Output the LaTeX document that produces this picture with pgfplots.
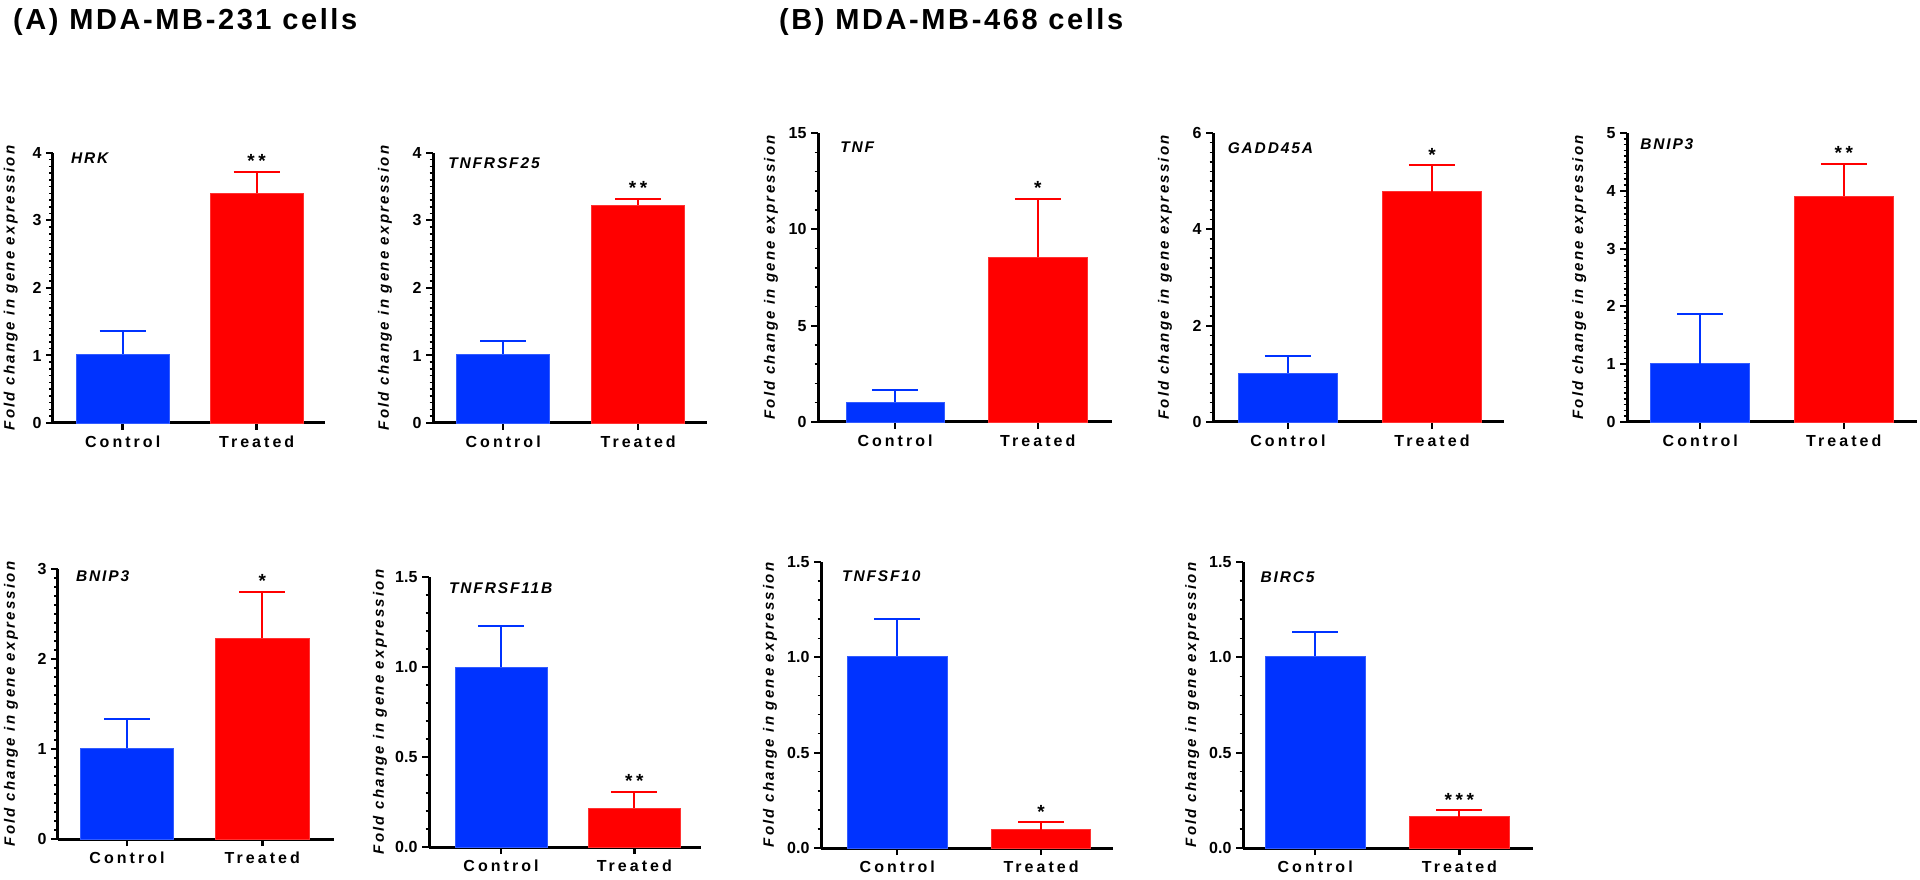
\documentclass[border=0pt]{standalone}
\usepackage{fontspec}
\usepackage{pgfplots}
\pgfplotsset{compat=1.18}
\setmainfont{Liberation Sans}
\newfontfamily\titlefont[LetterSpace=9]{Liberation Sans Bold}
\newfontfamily\labfont[LetterSpace=19]{Liberation Sans Bold}
\newfontfamily\ylabfont[LetterSpace=15]{Liberation Sans Bold Italic}
\newfontfamily\genefont[LetterSpace=12]{Liberation Sans Bold Italic}
\newfontfamily\numfont{Liberation Sans Bold}
\definecolor{cblue}{RGB}{0,51,255}
\definecolor{cred}{RGB}{255,0,0}
\pgfplotsset{
  panel/.style={
    scale only axis,
    axis x line*=bottom, axis y line*=left,
    axis line style={line width=3pt, black},
    ybar, bar width=0.69, bar shift=0pt,
    ymin=0,
    xtick={0,1}, xticklabels={Control,Treated},
    tick align=outside,
    major tick length=7pt, minor tick length=3.5pt,
    every tick/.style={black, line width=2pt},
    minor tick style={line width=1.5pt},
    xtick style={line width=2.5pt},
    xticklabel style={font=\labfont\fontsize{16}{18}\selectfont, yshift=-2pt},
    yticklabel style={font=\numfont\fontsize{16}{18}\selectfont, xshift=-1pt},
    /pgf/number format/assume math mode=true,
    ylabel={Fold change in gene expression},
    ylabel style={font=\ylabfont\fontsize{15}{17}\selectfont, rotate=0, anchor=center},
    clip=false,
    enlarge y limits=false,
  },
  ctrl/.style={fill=cblue, draw=cblue!80!white, line width=0.6pt,
    error bars/.cd, y dir=plus, y explicit,
    error bar style={line width=2pt, cblue},
    error mark options={line width=2pt, cblue, mark size=23pt, rotate=90}},
  trt/.style={fill=cred, draw=cred!80!white, line width=0.6pt,
    error bars/.cd, y dir=plus, y explicit,
    error bar style={line width=2pt, cred},
    error mark options={line width=2pt, cred, mark size=23pt, rotate=90}},
  dec/.style={yticklabel style={/pgf/number format/.cd, fixed, fixed zerofill, precision=1}},
}
\tikzset{
  gene/.style={font=\genefont\fontsize{15.5}{17}\selectfont, anchor=north west, inner sep=0pt},
  star/.style={font=\labfont\fontsize{19}{20}\selectfont, anchor=south, inner sep=0pt, yshift=4pt},
}
\begin{document}
\begin{tikzpicture}[x=1pt,y=1pt]
\useasboundingbox (0,0) rectangle (1920,879);
\node[anchor=base west, inner sep=0pt, font=\titlefont\fontsize{29}{34}\selectfont] at (13,849) {(A) MDA-MB-231 cells};
\node[anchor=base west, inner sep=0pt, font=\titlefont\fontsize{29}{34}\selectfont] at (779,849) {(B) MDA-MB-468 cells};

% ---------- HRK
\begin{axis}[panel, at={(53pt,456pt)}, anchor=south west, width=272pt, height=270pt,
  xmin=-0.52, xmax=1.51, ymax=4, ytick={0,1,2,3,4}, minor y tick num=9,
  ylabel style={at={(axis description cs:-0.155,0.5)}}]
\addplot[ctrl] coordinates {(0,1.02) += (0,0.34)};
\addplot[trt] coordinates {(1,3.40) += (0,0.32)};
\node[gene] at (rel axis cs:0.066,1) {HRK};
\node[star] at (axis cs:1,3.72) {**};
\end{axis}

% ---------- TNFRSF25
\begin{axis}[panel, at={(433pt,456pt)}, anchor=south west, width=274pt, height=270pt,
  xmin=-0.52, xmax=1.51, ymax=4, ytick={0,1,2,3,4}, minor y tick num=9,
  ylabel style={at={(axis description cs:-0.175,0.5)}}]
\addplot[ctrl] coordinates {(0,1.02) += (0,0.20)};
\addplot[trt] coordinates {(1,3.23) += (0,0.09)};
\node[gene, yshift=-4pt] at (rel axis cs:0.055,1) {TNFRSF25};
\node[star] at (axis cs:1,3.32) {**};
\end{axis}

% ---------- TNF
\begin{axis}[panel, at={(818pt,457pt)}, anchor=south west, width=294pt, height=289pt,
  xmin=-0.54, xmax=1.52, ymax=15, ytick={0,5,10,15}, minor y tick num=4,
  ylabel style={at={(axis description cs:-0.16,0.5)}}]
\addplot[ctrl] coordinates {(0,1.04) += (0,0.60)};
\addplot[trt] coordinates {(1,8.55) += (0,3.05)};
\node[gene, yshift=-9pt] at (rel axis cs:0.075,1) {TNF};
\node[star] at (axis cs:1,11.6) {*};
\end{axis}

% ---------- GADD45A
\begin{axis}[panel, at={(1213pt,457pt)}, anchor=south west, width=291pt, height=289pt,
  xmin=-0.52, xmax=1.50, ymax=6, ytick={0,2,4,6}, minor y tick num=9,
  ylabel style={at={(axis description cs:-0.165,0.5)}}]
\addplot[ctrl] coordinates {(0,1.02) += (0,0.35)};
\addplot[trt] coordinates {(1,4.78) += (0,0.55)};
\node[gene, yshift=-9pt] at (rel axis cs:0.05,1) {GADD45A};
\node[star] at (axis cs:1,5.33) {*};
\end{axis}

% ---------- BNIP3 (B)
\begin{axis}[panel, at={(1627pt,457pt)}, anchor=south west, width=290pt, height=289pt,
  xmin=-0.51, xmax=1.51, ymax=5, ytick={0,1,2,3,4,5}, minor y tick num=9,
  ylabel style={at={(axis description cs:-0.165,0.5)}}]
\addplot[ctrl] coordinates {(0,1.01) += (0,0.86)};
\addplot[trt] coordinates {(1,3.91) += (0,0.56)};
\node[gene, yshift=-5pt] at (rel axis cs:0.045,1) {BNIP3};
\node[star] at (axis cs:1,4.47) {**};
\end{axis}

% ---------- BNIP3 (A)
\begin{axis}[panel, at={(58pt,40pt)}, anchor=south west, width=276pt, height=270pt,
  xmin=-0.51, xmax=1.53, ymax=3, ytick={0,1,2,3}, minor y tick num=9,
  ylabel style={at={(axis description cs:-0.17,0.5)}}]
\addplot[ctrl] coordinates {(0,1.01) += (0,0.32)};
\addplot[trt] coordinates {(1,2.23) += (0,0.52)};
\node[gene, yshift=-1pt] at (rel axis cs:0.065,1) {BNIP3};
\node[star] at (axis cs:1,2.75) {*};
\end{axis}

% ---------- TNFRSF11B
\begin{axis}[panel, dec, at={(429pt,32pt)}, anchor=south west, width=272pt, height=270pt,
  xmin=-0.54, xmax=1.50, ymax=1.5, ytick={0,0.5,1,1.5}, minor y tick num=4,
  ylabel style={at={(axis description cs:-0.18,0.5)}}]
\addplot[ctrl] coordinates {(0,1.00) += (0,0.23)};
\addplot[trt] coordinates {(1,0.217) += (0,0.089)};
\node[gene, yshift=-5pt] at (rel axis cs:0.073,1) {TNFRSF11B};
\node[star] at (axis cs:1,0.306) {**};
\end{axis}

% ---------- TNFSF10
\begin{axis}[panel, dec, at={(821pt,31pt)}, anchor=south west, width=292pt, height=286pt,
  xmin=-0.53, xmax=1.50, ymax=1.5, ytick={0,0.5,1,1.5}, minor y tick num=4,
  ylabel style={at={(axis description cs:-0.175,0.5)}}]
\addplot[ctrl] coordinates {(0,1.007) += (0,0.195)};
\addplot[trt] coordinates {(1,0.096) += (0,0.038)};
\node[gene, yshift=-8pt] at (rel axis cs:0.072,1) {TNFSF10};
\node[star] at (axis cs:1,0.134) {*};
\end{axis}

% ---------- BIRC5
\begin{axis}[panel, dec, at={(1243pt,31pt)}, anchor=south west, width=290pt, height=286pt,
  xmin=-0.50, xmax=1.51, ymax=1.5, ytick={0,0.5,1,1.5}, minor y tick num=4,
  ylabel style={at={(axis description cs:-0.175,0.5)}}]
\addplot[ctrl] coordinates {(0,1.005) += (0,0.13)};
\addplot[trt] coordinates {(1,0.165) += (0,0.032)};
\node[gene, yshift=-9pt] at (rel axis cs:0.06,1) {BIRC5};
\node[star] at (axis cs:1,0.197) {***};
\end{axis}
\end{tikzpicture}
\end{document}
